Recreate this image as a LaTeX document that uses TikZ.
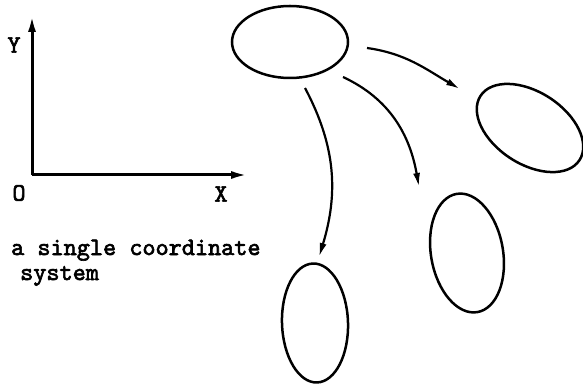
\documentclass[tikz,border=0pt]{standalone}
\usepackage{fontspec}
\newfontfamily\typew{lmmono10-regular.otf}[FakeBold=2.5]
\usetikzlibrary{arrows.meta, shapes.geometric}

\begin{document}
\begin{tikzpicture}[
  x=1pt, y=1pt,
  font=\typew\fontsize{25}{25}\selectfont,
  blob/.style={draw, ellipse, line width=2.5pt, inner sep=0pt},
  lbl/.style={inner sep=0pt},
  axis/.style={line width=3pt, -{Latex[length=17pt,width=8pt]}},
  arr/.style={line width=2.2pt, -{Latex[length=14pt,width=7pt]}}
]
\useasboundingbox (0,0) rectangle (583,-387);

% --- coordinate system ---
\coordinate (o)  at (32,-175);
\coordinate (yt) at (32,-15);
\coordinate (xt) at (248,-175);
\draw[axis] (o) -- (yt);
\draw[axis] (o) -- (xt);
\node[lbl] (ylab) at (14,-45)  {Y};
\node[lbl] (olab) at (19,-193) {O};
\node[lbl] (xlab) at (221,-194) {X};

\node[lbl, anchor=base west] (cap1) at (11,-255) {a single coordinate};
\node[lbl, anchor=base west] (cap2) at (20,-280) {system};

% --- the blobs ---
\node[blob, minimum width=116pt, minimum height=72pt] (orig) at (290,-42) {};
\node[blob, minimum width=118pt, minimum height=72pt, rotate=-33] (tgtR) at (530,-128) {};
\node[blob, minimum width=120pt, minimum height=72pt, rotate=-80] (tgtM) at (467,-253) {};
\node[blob, minimum width=119pt, minimum height=66pt, rotate=-88] (tgtL) at (315,-323) {};

% --- arrows between them ---
\draw[arr] ([shift={(77pt,-6pt)}]orig.center) to[out=-8, in=150] ([shift={(-70pt,39pt)}]tgtR.center);
\draw[arr] ([shift={(53pt,-35pt)}]orig.center) to[out=-25, in=100] ([shift={(-48pt,66pt)}]tgtM.center);
\draw[arr] ([shift={(15pt,-46pt)}]orig.center) to[out=-62, in=73] ([shift={(4pt,66pt)}]tgtL.center);
\end{tikzpicture}
\end{document}
